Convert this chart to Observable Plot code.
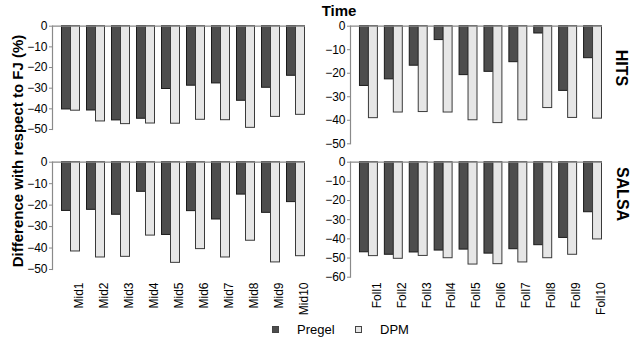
<!DOCTYPE html>
<html><head><meta charset="utf-8">
<script src="https://cdn.jsdelivr.net/npm/d3@7"></script>
<script src="https://cdn.jsdelivr.net/npm/@observablehq/plot@0.6"></script>
<style>
body{margin:0;background:#fff;font-family:"Liberation Sans",Arial,sans-serif;}
#chart{position:relative;width:630px;height:343px;overflow:hidden;}
#chart svg{position:absolute;left:0;top:0;}
.lbl{position:absolute;white-space:nowrap;font-weight:bold;color:#000;line-height:1;}
.leg{position:absolute;white-space:nowrap;color:#000;font-size:13px;line-height:1;}
.sw{position:absolute;width:7px;height:7px;border:1px solid #444;box-sizing:border-box;}
</style></head><body><div id="chart"></div>
<script>
const midCategories = ["Mid1","Mid2","Mid3","Mid4","Mid5","Mid6","Mid7","Mid8","Mid9","Mid10"];
const follCategories = ["Foll1","Foll2","Foll3","Foll4","Foll5","Foll6","Foll7","Foll8","Foll9","Foll10"];
const seriesNames = ["Pregel","DPM"];
const seriesColors = ["#4d4d4d","#e6e6e6"];
const algorithms = ["HITS","SALSA"];

const hitsMidPregel  = [-40.3,-40.8,-45.6,-44.8,-30.4,-28.8,-27.7,-36.1,-29.8,-24.0];
const hitsMidDPM     = [-40.9,-46.1,-47.4,-47.1,-47.2,-45.3,-45.5,-49.2,-43.9,-42.9];
const hitsFollPregel = [-25.4,-22.6,-16.8,-5.9,-20.8,-19.4,-15.3,-3.1,-27.5,-13.6];
const hitsFollDPM    = [-39.1,-36.7,-36.5,-36.7,-40.0,-41.2,-40.0,-34.8,-39.0,-39.3];
const salsaMidPregel = [-22.7,-22.2,-24.5,-13.8,-33.9,-22.8,-26.7,-15.1,-23.6,-18.6];
const salsaMidDPM    = [-41.6,-44.4,-44.1,-34.2,-46.9,-40.5,-44.4,-36.6,-46.7,-43.8];
const salsaFollPregel= [-47.0,-48.3,-47.1,-46.1,-45.6,-47.7,-45.4,-43.3,-39.5,-26.1];
const salsaFollDPM   = [-49.0,-50.4,-48.9,-50.1,-53.4,-53.2,-52.3,-50.1,-48.3,-40.3];

const ticks50 = [-50,-40,-30,-20,-10,0];
const ticks60 = [-60,-50,-40,-30,-20,-10,0];

const chart = document.getElementById("chart");

function panel({cats, pregel, dpm, yDomain, yTicks, l, t, r, b, showX, tickPadding, labelDx}) {
  const rows = cats.flatMap((c, i) => [
    {cat: c, series: seriesNames[0], value: pregel[i]},
    {cat: c, series: seriesNames[1], value: dpm[i]}
  ]);
  const pi = 0.28, po = 0.2;
  const W = r - l;
  const step = W / (cats.length - pi + 2 * po);
  const half = step * (1 - pi) / 2;
  return Plot.plot({
    width: 630, height: 343,
    marginLeft: l, marginTop: t, marginRight: 630 - r, marginBottom: 343 - b,
    style: {background: "transparent", overflow: "visible", fontFamily: "Liberation Sans, Arial, sans-serif", fontSize: "12px", color: "#000"},
    x: {type: "band", domain: cats, paddingInner: pi, paddingOuter: po, align: 0.95, round: false, axis: null},
    y: {domain: yDomain, axis: null},
    marks: [
      Plot.barY(rows.filter(d => d.series === seriesNames[0]), {x: "cat", y: "value", fill: seriesColors[0], stroke: "#1a1a1a", strokeWidth: 1, insetRight: half}),
      Plot.barY(rows.filter(d => d.series === seriesNames[1]), {x: "cat", y: "value", fill: seriesColors[1], stroke: "#3a3a3a", strokeWidth: 1, insetLeft: half}),
      Plot.ruleY([0], {stroke: "#8a8a8a", strokeWidth: 1.2}),
      Plot.frame({anchor: "left", stroke: "#8a8a8a", strokeWidth: 1.2}),
      Plot.axisY({ticks: yTicks, tickSize: 3, tickPadding: 2, stroke: "#8a8a8a", fill: "#000", label: null, fontSize: 12}),
      showX ? Plot.axisX({tickRotate: -90, tickSize: 0, tickPadding: tickPadding, label: null, dx: labelDx, fill: "#000", fontSize: 12}) : null
    ]
  });
}

chart.append(panel({cats: midCategories, pregel: hitsMidPregel, dpm: hitsMidDPM, yDomain: [-50, 0], yTicks: ticks50, l: 52, t: 25.7, r: 305, b: 129, showX: false}));
chart.append(panel({cats: follCategories, pregel: hitsFollPregel, dpm: hitsFollDPM, yDomain: [-50, 0], yTicks: ticks50, l: 350, t: 25.7, r: 602, b: 143.3, showX: false}));
chart.append(panel({cats: midCategories, pregel: salsaMidPregel, dpm: salsaMidDPM, yDomain: [-50, 0], yTicks: ticks50, l: 52, t: 161.7, r: 305, b: 269, showX: true, tickPadding: 13, labelDx: 8}));
chart.append(panel({cats: follCategories, pregel: salsaFollPregel, dpm: salsaFollDPM, yDomain: [-60, 0], yTicks: ticks60, l: 350, t: 161.7, r: 602, b: 276.7, showX: true, tickPadding: 5, labelDx: 8}));

function label(text, x, y, size, rot) {
  const d = document.createElement("div");
  d.className = "lbl";
  d.textContent = text;
  d.style.left = x + "px";
  d.style.top = y + "px";
  d.style.fontSize = size + "px";
  d.style.transform = `translate(-50%,-50%) rotate(${rot}deg)`;
  chart.append(d);
}
label("Time", 339, 10, 15, 0);
label("Difference with respect to FJ (%)", 17, 151, 15, -90);
label(algorithms[0], 621, 68, 16, 90);
label(algorithms[1], 622, 194, 16, 90);

const legX = [272, 355];
seriesNames.forEach((s, i) => {
  const sw = document.createElement("div");
  sw.className = "sw";
  sw.style.left = legX[i] + "px";
  sw.style.top = "326px";
  sw.style.background = seriesColors[i];
  chart.append(sw);
  const t = document.createElement("div");
  t.className = "leg";
  t.textContent = s;
  t.style.left = (legX[i] + 25) + "px";
  t.style.top = "323px";
  chart.append(t);
});
</script></body></html>
